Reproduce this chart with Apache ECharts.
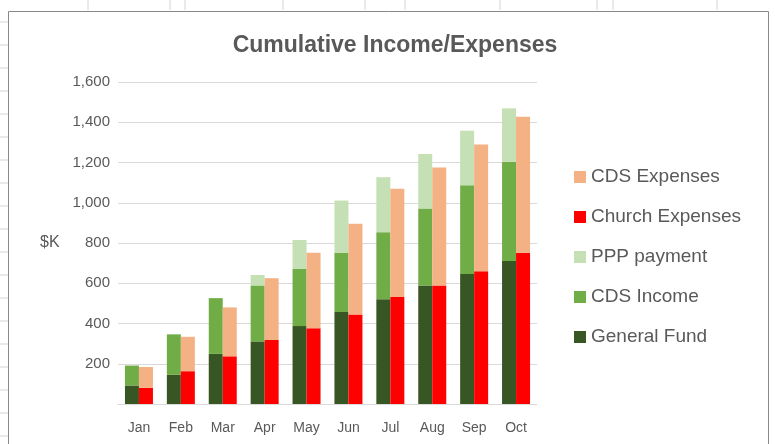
<!DOCTYPE html>
<html>
<head>
<meta charset="UTF-8">
<title>Cumulative Income/Expenses</title>
<script src="https://cdn.jsdelivr.net/npm/echarts@6/dist/echarts.min.js"></script>
<style>
body {
    padding: 0;
    margin: 0;
    background: #fff;
}
#main {
    width: 775px;
    height: 444px;
}
</style>
</head>
<body>
<div id="main"></div>
<script>
// values in $K
var months = ['Jan', 'Feb', 'Mar', 'Apr', 'May', 'Jun', 'Jul', 'Aug', 'Sep', 'Oct'];
var generalFund = [92, 145, 249, 311, 387, 457, 521, 589, 646, 711];
var cdsIncome = [99, 201, 277, 278, 284, 295, 333, 383, 441, 492];
var pppPayment = [0, 0, 0, 52, 144, 259, 273, 270, 271, 266];
var churchExpenses = [80, 163, 237, 318, 376, 445, 532, 589, 660, 752];
var cdsExpenses = [104, 171, 243, 307, 376, 451, 537, 586, 629, 675];
var yTicks = [0, 1600, 200];

var txt = '#595959';
var font = '"Liberation Sans", "Open Sans", sans-serif';

// spreadsheet lines around the chart box
var sheet = [];
[88, 170, 185, 283, 365, 405, 500, 597, 613, 717].forEach(function (x) {
    sheet.push({ type: 'line', shape: { x1: x, y1: 0, x2: x, y2: 10 }, style: { stroke: '#d4d4d4', lineWidth: 1 } });
});
for (var y = 22; y < 444; y += 23) {
    sheet.push({ type: 'line', shape: { x1: 0, y1: y, x2: 8, y2: y }, style: { stroke: '#d4d4d4', lineWidth: 1 } });
}
sheet.push({ type: 'rect', shape: { x: 8.5, y: 11.5, width: 760, height: 440 }, style: { fill: 'none', stroke: '#888', lineWidth: 1 } });

function bar(name, stack, data, color) {
    return {
        name: name,
        type: 'bar',
        stack: stack,
        data: data,
        barWidth: 14,
        barGap: '0%',
        itemStyle: { color: color }
    };
}

var chart = echarts.init(document.getElementById('main'));
var option = {
    animation: false,
    textStyle: { fontFamily: font },
    title: {
        text: 'Cumulative Income/Expenses',
        left: 390,
        textAlign: 'center',
        top: 29,
        textStyle: { fontFamily: font, fontSize: 23, fontWeight: 'bold', color: txt }
    },
    graphic: sheet.concat([{
        type: 'text', left: 40, top: 235,
        style: { text: '$K', fontFamily: font, fontSize: 16, fill: txt }
    }]),
    legend: {
        orient: 'vertical',
        left: 569,
        top: 161,
        itemWidth: 12,
        itemHeight: 12,
        itemGap: 18,
        itemStyle: { borderWidth: 0 },
        icon: 'rect',
        data: ['CDS Expenses', 'Church Expenses', 'PPP payment', 'CDS Income', 'General Fund'],
        textStyle: { fontFamily: font, fontSize: 19, color: txt, lineHeight: 22 }
    },
    grid: {
        left: 118,
        right: 238,
        top: 82,
        bottom: 40
    },
    xAxis: {
        type: 'category',
        data: months,
        axisTick: { show: false },
        axisLine: { lineStyle: { color: '#d9d9d9' } },
        axisLabel: { color: txt, fontSize: 14, margin: 17 }
    },
    yAxis: {
        type: 'value',
        min: yTicks[0],
        max: yTicks[1],
        interval: yTicks[2],
        axisLine: { show: false },
        axisTick: { show: false },
        splitLine: { lineStyle: { color: '#d9d9d9' } },
        axisLabel: {
            color: txt,
            fontSize: 15,
            margin: 8,
            formatter: function (v) { return v === 0 ? '' : v.toLocaleString('en-US'); }
        }
    },
    series: [
        bar('General Fund', 'inc', generalFund, '#375623'),
        bar('CDS Income', 'inc', cdsIncome, '#70ad47'),
        bar('PPP payment', 'inc', pppPayment, '#c5e0b4'),
        bar('Church Expenses', 'exp', churchExpenses, '#ff0000'),
        bar('CDS Expenses', 'exp', cdsExpenses, '#f4b183')
    ]
};
chart.setOption(option);
</script>
</body>
</html>
